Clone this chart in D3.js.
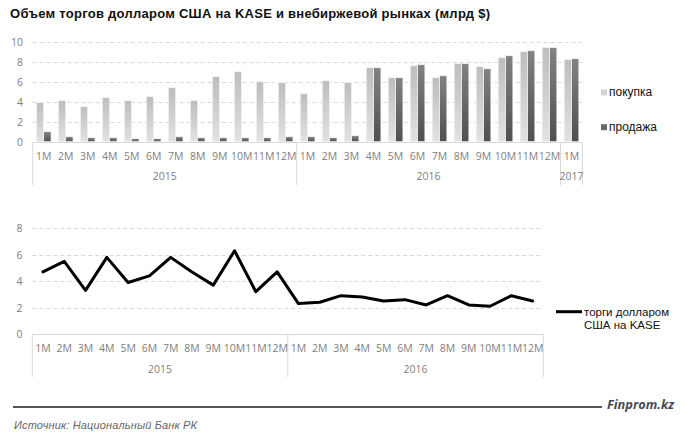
<!DOCTYPE html>
<html><head><meta charset="utf-8">
<script src="https://cdn.jsdelivr.net/npm/d3@7"></script>
<style>
html,body{margin:0;padding:0;background:#fff;}
svg{display:block;}
</style></head>
<body>
<svg id="chart" width="685" height="440"></svg>
<script>
// ---------- DATA ----------
const months = ["1M","2M","3M","4M","5M","6M","7M","8M","9M","10M","11M","12M"];
const yearsTop = [{year:"2015", n:12},{year:"2016", n:12},{year:"2017", n:1}];
const yearsBottom = [{year:"2015", n:12},{year:"2016", n:12}];
const buy  = [3.9,4.1,3.5,4.4,4.1,4.5,5.4,4.1,6.5,7.0,6.0,5.9, 4.8,6.1,5.9,7.4,6.4,7.6,6.4,7.8,7.5,8.4,9.0,9.4, 8.2];
const sell = [1.0,0.5,0.4,0.4,0.3,0.3,0.5,0.4,0.4,0.4,0.4,0.5, 0.5,0.4,0.6,7.4,6.4,7.7,6.6,7.8,7.3,8.6,9.1,9.4, 8.3];
const kase = [4.7,5.5,3.3,5.8,3.9,4.4,5.8,4.7,3.7,6.3,3.2,4.7, 2.3,2.4,2.9,2.8,2.5,2.6,2.2,2.9,2.2,2.1,2.9,2.5];
const yTicksTop = [0,2,4,6,8,10];
const yTicksBottom = [0,2,4,6,8];
const seriesNames = ["покупка","продажа"];
const lineName = ["торги долларом","США на KASE"];
const title = "Объем торгов долларом США на KASE и внебиржевой рынках (млрд $)";
const source = "Источник: Национальный Банк РК";
const brand = "Finprom.kz";

// ---------- SETUP ----------
const svg = d3.select("#chart");
const axisFont = "'Open Sans', 'DejaVu Sans', sans-serif";
const axisColor = "#808080";
const gridColor = "#d9d9d9";

function buildCats(years){
  const out=[];
  years.forEach(y=>{ for(let i=0;i<y.n;i++) out.push({year:y.year, m:months[i], key:y.year+"-"+months[i]}); });
  return out;
}

// defs: gradients
const defs = svg.append("defs");
const g1 = defs.append("linearGradient").attr("id","gLight").attr("x1",0).attr("y1",0).attr("x2",0).attr("y2",1);
g1.append("stop").attr("offset","0%").attr("stop-color","#bdbdbd");
g1.append("stop").attr("offset","100%").attr("stop-color","#e2e2e2");
const g2 = defs.append("linearGradient").attr("id","gDark").attr("x1",0).attr("y1",0).attr("x2",0).attr("y2",1);
g2.append("stop").attr("offset","0%").attr("stop-color","#828282");
g2.append("stop").attr("offset","100%").attr("stop-color","#4f4f4f");

// Title
svg.append("text").attr("x",10).attr("y",18)
  .attr("font-family","'Liberation Sans', Arial, sans-serif").attr("font-weight","bold")
  .attr("font-size","13px").attr("fill","#111")
  .attr("textLength",480).attr("lengthAdjust","spacing")
  .text(title);

function drawCategoryAxis(g, cats, years, x, y0, monthY, yearY, bottomY){
  g.append("line").attr("x1",x.range()[0]).attr("x2",x.range()[1]).attr("y1",y0).attr("y2",y0)
    .attr("stroke",gridColor).attr("stroke-width",1);
  let idx=0;
  const bounds=[x.range()[0]];
  years.forEach(y=>{ idx+=y.n; bounds.push(x.range()[0]+idx*x.step()); });
  g.selectAll(".sep").data(bounds).join("line")
    .attr("x1",d=>d).attr("x2",d=>d).attr("y1",y0).attr("y2",bottomY)
    .attr("stroke",gridColor).attr("stroke-width",1);
  g.selectAll(".ml").data(cats).join("text")
    .attr("x",d=>x(d.key)+x.bandwidth()/2).attr("y",monthY)
    .attr("text-anchor","middle").attr("font-family",axisFont).attr("font-size","10.5px")
    .attr("fill",axisColor).text(d=>d.m);
  let start=0;
  years.forEach(y=>{
    const xs = bounds[0]+start*x.step(), xe = bounds[0]+(start+y.n)*x.step();
    g.append("text").attr("x",(xs+xe)/2).attr("y",yearY).attr("text-anchor","middle")
      .attr("font-family",axisFont).attr("font-size","10.5px").attr("fill",axisColor).text(y.year);
    start+=y.n;
  });
}

// ---------- TOP CHART ----------
const catsTop = buildCats(yearsTop);
const xTop = d3.scaleBand().domain(catsTop.map(d=>d.key)).range([32.7,582.5]);
const yTop = d3.scaleLinear().domain([0,10]).range([141.7,41.7]);
const gTop = svg.append("g");

gTop.selectAll(".grid").data(yTicksTop.filter(d=>d>0)).join("line")
  .attr("x1",32.7).attr("x2",582.5).attr("y1",d=>Math.round(yTop(d))+0.5).attr("y2",d=>Math.round(yTop(d))+0.5)
  .attr("stroke",gridColor).attr("stroke-dasharray","4,3");
gTop.selectAll(".yl").data(yTicksTop).join("text")
  .attr("x",23).attr("y",d=>yTop(d)+4).attr("text-anchor","end")
  .attr("font-family",axisFont).attr("font-size","10.5px").attr("fill",axisColor).text(d=>d);

const groupW = xTop.bandwidth()*0.67;
const barScale = d3.scaleBand().domain(seriesNames).range([(xTop.bandwidth()-groupW)/2,(xTop.bandwidth()+groupW)/2]);
const barData = [];
catsTop.forEach((c,i)=>{
  barData.push({key:c.key, s:seriesNames[0], v:buy[i]});
  barData.push({key:c.key, s:seriesNames[1], v:sell[i]});
});
gTop.selectAll(".bar").data(barData).join("rect")
  .attr("x",d=>xTop(d.key)+barScale(d.s))
  .attr("width",barScale.bandwidth())
  .attr("y",d=>yTop(d.v)).attr("height",d=>yTop(0)-yTop(d.v))
  .attr("fill",d=>d.s===seriesNames[0]?"url(#gLight)":"url(#gDark)")
  .attr("stroke","#f4f4f4").attr("stroke-width",0.8);

drawCategoryAxis(gTop, catsTop, yearsTop, xTop, Math.round(yTop(0))+0.5, 160, 180, 185);

const legTop = svg.append("g");
[["#d3d3d3",96,seriesNames[0]],["#6a6a6a",130.7,seriesNames[1]]].forEach(([c,yb,t])=>{
  legTop.append("rect").attr("x",601).attr("y",yb-6.5).attr("width",6).attr("height",6).attr("fill",c);
  legTop.append("text").attr("x",609).attr("y",yb).attr("font-family","'Liberation Sans', Arial, sans-serif")
    .attr("font-size","12px").attr("fill","#111").text(t);
});

// ---------- BOTTOM CHART ----------
const catsBot = buildCats(yearsBottom);
const xBot = d3.scaleBand().domain(catsBot.map(d=>d.key)).range([32.3,543.3]);
const yBot = d3.scaleLinear().domain([0,8]).range([334,228.3]);
const gBot = svg.append("g");
gBot.selectAll(".grid").data(yTicksBottom.filter(d=>d>0)).join("line")
  .attr("x1",32.3).attr("x2",543.3).attr("y1",d=>Math.round(yBot(d))+0.5).attr("y2",d=>Math.round(yBot(d))+0.5)
  .attr("stroke",gridColor).attr("stroke-dasharray","4,3");
gBot.selectAll(".yl").data(yTicksBottom).join("text")
  .attr("x",22.5).attr("y",d=>yBot(d)+4).attr("text-anchor","end")
  .attr("font-family",axisFont).attr("font-size","10.5px").attr("fill",axisColor).text(d=>d);

drawCategoryAxis(gBot, catsBot, yearsBottom, xBot, Math.round(yBot(0))+0.5, 351.5, 372.5, 377);

const line = d3.line().x((d,i)=>xBot(catsBot[i].key)+xBot.bandwidth()/2).y(d=>yBot(d));
gBot.append("path").datum(kase).attr("d",line).attr("fill","none")
  .attr("stroke","#000").attr("stroke-width",3).attr("stroke-linejoin","round").attr("stroke-linecap","round");

const legBot = svg.append("g");
legBot.append("line").attr("x1",556).attr("x2",582).attr("y1",311.7).attr("y2",311.7)
  .attr("stroke","#000").attr("stroke-width",3);
lineName.forEach((t,i)=>{
  legBot.append("text").attr("x",584).attr("y",316+i*12.5)
    .attr("font-family","'Liberation Sans', Arial, sans-serif").attr("font-size","11.5px").attr("fill","#111").text(t);
});

// ---------- FOOTER ----------
svg.append("line").attr("x1",13).attr("x2",602).attr("y1",407).attr("y2",407)
  .attr("stroke","#555").attr("stroke-width",2);
svg.append("text").attr("x",607).attr("y",409).attr("font-family","'Open Sans', 'DejaVu Sans', sans-serif")
  .attr("font-style","italic").attr("font-weight","bold").attr("font-size","13px").attr("fill","#4a4a55")
  .attr("textLength",67).attr("lengthAdjust","spacingAndGlyphs").text(brand);
svg.append("text").attr("x",14).attr("y",429).attr("font-family","'Liberation Sans Narrow', 'Liberation Sans', sans-serif")
  .attr("font-style","italic").attr("font-size","11px").attr("fill","#666")
  .attr("textLength",183).attr("lengthAdjust","spacing").text(source);
</script>
</body></html>
